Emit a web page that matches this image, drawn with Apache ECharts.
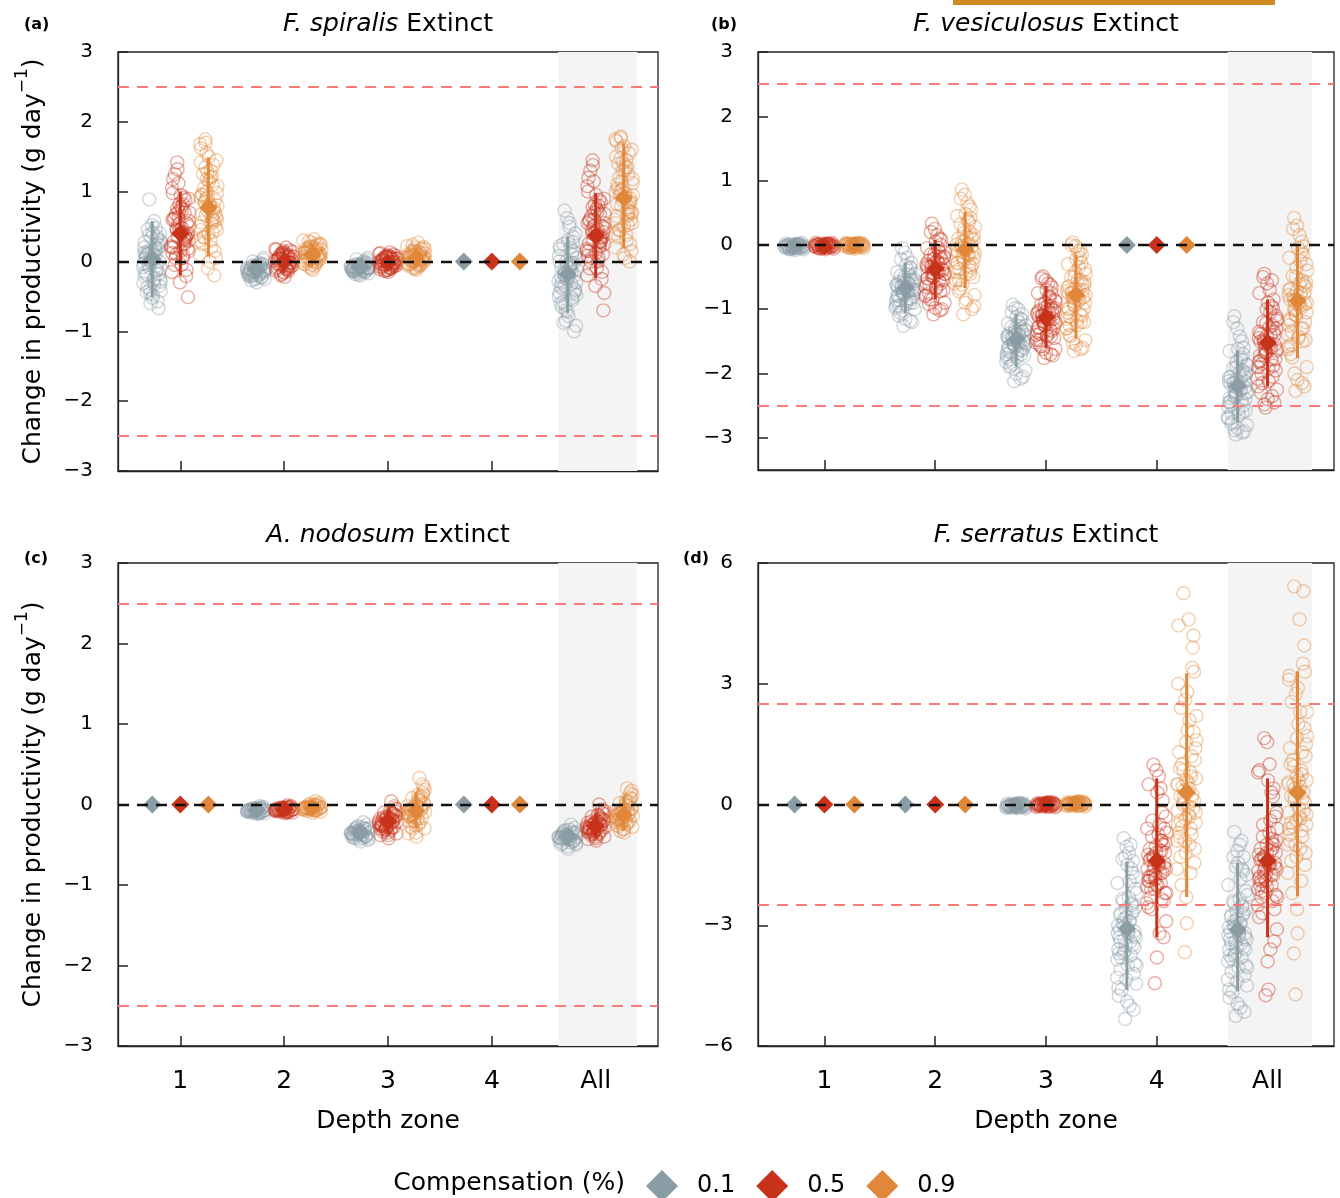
<!DOCTYPE html>
<html><head><meta charset="utf-8">
<script src="https://cdn.jsdelivr.net/npm/echarts@6/dist/echarts.min.js"></script>
<style>html,body{margin:0;padding:0;background:#fff}#c{width:1340px;height:1198px}</style>
</head><body><div id="c"></div>
<script>
// ---------------- data ----------------
const zones = ['1', '2', '3', '4', 'All'];
const comps = ['0.1', '0.5', '0.9'];
const yTicks3 = [-3, -2, -1, 0, 1, 2, 3];
const yTicks6 = [-6, -3, 0, 3, 6];
const xTicks = [1, 2, 3, 4, 5];

// Panel (a) F. spiralis
const meanA = [[0.04, -0.12, -0.08, 0, -0.18], [0.40, 0.0, -0.02, 0, 0.37], [0.77, 0.10, 0.05, 0, 0.91]];
const loA = [[-0.51, -0.25, -0.17, 0, -0.74], [-0.2, -0.17, -0.12, 0, -0.24], [0.07, -0.07, -0.1, 0, 0.19]];
const hiA = [[0.58, 0.02, 0.02, 0, 0.36], [1.0, 0.17, 0.09, 0, 0.98], [1.49, 0.27, 0.2, 0, 1.69]];
const ptsA_g = [
  [0.05,-0.21,0.33,0.89,-0.1,0.14,-0.44,0.22,0.0,-0.31,0.41,-0.05,0.18,-0.6,0.08,-0.16,0.27,-0.37,0.58,0.03,-0.26,0.12,-0.52,0.36,-0.02,0.2,-0.13,-0.67,0.46,0.1,-0.08,0.3,-0.4,0.16,-0.19,0.25,0.52,-0.29,0.06,-0.48,
   0.15,-0.35,0.02,-0.12,0.28,-0.24,0.09,0.4,-0.46,0.19,-0.03,-0.18,0.34,-0.57,0.11,0.23,-0.09,-0.33,0.04,0.48,-0.27,0.13,-0.06,0.38,-0.42],
  [-0.12,-0.2,-0.05,-0.15,-0.25,-0.08,-0.1,-0.18,0.02,-0.14,-0.3,-0.06,-0.22,-0.11,-0.02,-0.16,-0.13,-0.27,-0.09,-0.19,0.05,-0.12,-0.07,-0.23,-0.15,-0.1,-0.17,-0.04,-0.21,-0.13,
   -0.1,-0.16,-0.06,-0.2,-0.13,-0.03,-0.24,-0.11,-0.18,-0.08,0.0,-0.14,-0.26,-0.09,-0.17,-0.05,-0.21,-0.12,-0.15,-0.07],
  [-0.08,-0.13,-0.03,-0.1,-0.17,-0.05,-0.07,-0.12,0.02,-0.09,-0.2,-0.04,-0.15,-0.07,0.0,-0.11,-0.09,-0.18,-0.06,-0.13,0.05,-0.08,-0.05,-0.15,-0.1,-0.07,-0.12,-0.02,-0.14,-0.09,
   -0.07,-0.11,-0.04,-0.14,-0.09,-0.01,-0.16,-0.08,-0.12,-0.06,0.03,-0.1,-0.19,-0.05,-0.13,-0.03,-0.15,-0.09,-0.11,-0.06],
  [],
  [-0.18,-0.45,0.1,0.73,-0.3,-0.05,-0.65,0.2,-0.2,-0.5,0.3,-0.12,-0.02,-0.85,-0.1,-0.36,0.05,-0.58,0.55,-0.15,-0.42,-0.08,-0.72,0.15,-0.25,0.0,-0.32,-1.0,0.25,-0.1,-0.28,0.12,-0.62,-0.05,-0.38,0.35,0.62,-0.48,-0.22,-0.78,
   -0.2,-0.4,0.0,-0.55,0.18,-0.08,-0.3,0.4,-0.7,-0.15,0.08,-0.45,-0.25,0.28,-0.88,-0.12,-0.35,0.5,-0.6,-0.02,-0.22,0.22,-0.52,-0.18,-0.92]
];
const ptsA_r = [
  [0.42,0.12,0.7,1.42,0.3,0.55,-0.05,0.82,0.38,0.2,0.95,0.47,-0.21,0.63,0.26,1.18,0.5,0.05,0.75,0.35,-0.51,0.6,0.15,0.88,0.44,1.05,0.32,-0.12,0.68,0.4,0.22,0.9,0.53,0.08,1.25,0.36,-0.3,0.58,0.28,0.78,
   0.45,0.18,0.72,0.3,0.98,0.05,0.62,0.4,1.12,0.25,-0.15,0.55,0.82,0.34,0.1,0.7,1.32,0.48,0.2,0.92,-0.05,0.6,0.38,0.76,0.15],
  [0.0,-0.1,0.08,-0.04,0.14,-0.15,0.03,0.1,-0.07,0.18,-0.22,0.05,-0.02,0.12,-0.12,0.02,0.07,-0.05,0.2,-0.18,0.04,-0.08,0.1,-0.01,0.15,-0.13,0.06,-0.03,0.09,-0.09,
   0.01,-0.06,0.11,-0.11,0.04,0.16,-0.16,0.07,-0.03,0.13,-0.2,0.02,0.09,-0.06,0.17,-0.1,0.05,-0.02,0.12,-0.14],
  [-0.02,-0.08,0.04,-0.05,0.08,-0.12,0.01,0.06,-0.06,0.11,-0.15,0.02,-0.03,0.07,-0.1,0.0,0.05,-0.04,0.13,-0.13,0.03,-0.07,0.06,-0.01,0.09,-0.11,0.04,-0.03,0.05,-0.08,
   -0.01,-0.06,0.07,-0.09,0.02,0.1,-0.12,0.04,-0.04,0.08,-0.14,0.0,0.05,-0.07,0.12,-0.1,0.03,-0.02,0.06,-0.05],
  [],
  [0.37,0.08,0.68,1.45,0.25,0.52,-0.1,0.8,0.35,0.15,0.95,0.45,-0.25,0.6,0.22,1.2,0.48,0.0,0.72,0.3,-0.7,0.58,0.12,0.85,0.4,1.08,0.28,-0.15,0.65,0.38,0.18,0.9,0.5,0.05,1.3,0.33,-0.35,0.55,0.26,0.75,
   0.4,0.1,0.7,0.28,1.0,0.0,0.6,0.42,1.15,0.2,-0.2,0.5,0.82,0.3,0.05,0.68,1.38,0.46,0.15,0.88,-0.1,0.55,0.35,0.78,-0.45]
];
const ptsA_o = [
  [0.78,0.45,1.1,1.75,0.6,0.92,0.25,1.3,0.7,0.5,1.5,0.85,-0.2,1.0,0.55,1.62,0.8,0.35,1.2,0.66,0.05,0.96,0.4,1.38,0.74,1.68,0.62,0.15,1.05,0.82,0.3,1.45,0.9,0.2,1.25,0.58,-0.1,0.98,0.68,1.15,
   0.85,0.5,1.18,0.72,1.42,0.3,0.95,0.64,1.55,0.42,0.1,0.88,1.28,0.76,0.35,1.08,1.7,0.8,0.56,1.22,0.0,0.92,0.6,1.35,0.45],
  [0.1,0.0,0.18,0.05,0.25,-0.05,0.12,0.2,0.03,0.3,-0.12,0.15,0.08,0.22,-0.02,0.13,0.17,0.04,0.32,-0.08,0.11,0.02,0.2,0.09,0.27,-0.03,0.14,0.06,0.19,0.01,
   0.12,0.04,0.21,-0.06,0.15,0.26,-0.1,0.08,0.18,0.0,0.29,0.1,0.03,0.23,-0.04,0.16,0.07,0.24,0.13,-0.01],
  [0.05,-0.03,0.12,0.0,0.18,-0.08,0.07,0.14,-0.01,0.22,-0.12,0.09,0.03,0.16,-0.05,0.06,0.11,0.01,0.27,-0.1,0.06,-0.02,0.13,0.04,0.2,-0.06,0.08,0.02,0.15,-0.04,
   0.06,0.0,0.14,-0.07,0.09,0.19,-0.1,0.04,0.11,-0.02,0.24,0.07,0.01,0.17,-0.04,0.1,0.03,0.21,0.08,-0.05],
  [],
  [0.92,0.55,1.25,1.79,0.7,1.05,0.35,1.45,0.85,0.6,1.65,1.0,0.0,1.15,0.65,1.72,0.95,0.45,1.35,0.8,0.15,1.1,0.5,1.55,0.88,1.75,0.75,0.25,1.2,0.98,0.4,1.6,1.02,0.3,1.4,0.72,0.1,1.12,0.82,1.3,
   0.95,0.6,1.3,0.78,1.5,0.38,1.05,0.7,1.62,0.52,0.2,0.9,1.42,0.85,0.45,1.18,1.77,0.92,0.65,1.35,0.05,1.0,0.68,1.48,0.55]
];

// Panel (b) F. vesiculosus
const meanB = [[-0.02, -0.67, -1.47, 0, -2.19], [-0.02, -0.37, -1.13, 0, -1.52], [-0.01, -0.07, -0.78, 0, -0.87]];
const loB = [[-0.06, -1.06, -1.89, 0, -2.76], [-0.06, -0.85, -1.60, 0, -2.20], [-0.05, -0.67, -1.45, 0, -1.76]];
const hiB = [[0.02, -0.28, -1.08, 0, -1.64], [0.02, 0.08, -0.64, 0, -0.85], [0.03, 0.52, -0.15, 0, 0.0]];
const ptsB_g = [
  [-0.02,-0.05,0.01,-0.03,-0.07,0.0,-0.01,-0.04,0.03,-0.02,-0.08,0.01,-0.05,-0.03,0.02,-0.01,-0.04,-0.06,0.0,-0.02,
   -0.03,0.0,-0.06,-0.01,-0.04,0.02,-0.05,-0.02,-0.07,0.01,-0.03,-0.01,-0.05,0.0,-0.04],
  [-0.67,-0.85,-0.5,-0.05,-0.75,-0.6,-0.95,-0.4,-0.7,-0.88,-0.32,-0.64,-0.55,-1.26,-0.72,-0.8,-0.45,-1.05,-0.2,-0.68,-0.9,-0.58,-1.15,-0.36,-0.78,-0.62,-0.83,-1.2,-0.48,-0.7,-0.98,-0.52,-0.74,-0.6,-0.86,-0.28,-0.12,-1.0,-0.66,-0.92,
   -0.65,-0.8,-0.55,-0.9,-0.42,-0.72,-1.1,-0.6,-0.76,-0.35,-0.95,-0.68,-0.5,-0.84,-0.22,-0.7,-1.02,-0.58,-0.78,-0.46,-0.88,-0.63,-1.18,-0.74,-0.56],
  [-1.47,-1.65,-1.3,-0.93,-1.55,-1.4,-1.78,-1.2,-1.5,-1.7,-1.12,-1.44,-1.35,-2.12,-1.52,-1.6,-1.25,-1.88,-1.0,-1.48,-1.72,-1.38,-2.0,-1.16,-1.58,-1.42,-1.63,-2.05,-1.28,-1.5,-1.82,-1.32,-1.54,-1.4,-1.67,-1.08,-0.98,-1.95,-1.46,-1.75,
   -1.45,-1.6,-1.35,-1.7,-1.22,-1.5,-1.9,-1.4,-1.56,-1.15,-1.75,-1.48,-1.3,-1.64,-1.05,-1.52,-1.85,-1.38,-1.58,-1.26,-1.68,-1.43,-2.08,-1.53,-1.33],
  [],
  [-2.19,-2.45,-1.95,-1.11,-2.3,-2.1,-2.62,-1.78,-2.22,-2.52,-1.62,-2.15,-2.02,-2.95,-2.25,-2.38,-1.88,-2.75,-1.42,-2.2,-2.58,-2.05,-2.85,-1.7,-2.35,-2.12,-2.42,-2.9,-1.92,-2.2,-2.68,-1.98,-2.28,-2.08,-2.48,-1.6,-1.3,-2.8,-2.16,-2.55,
   -2.15,-2.4,-1.9,-2.6,-1.65,-2.25,-2.78,-2.0,-2.32,-1.5,-2.7,-2.12,-1.82,-2.5,-1.2,-2.28,-2.88,-1.98,-2.44,-1.75,-2.64,-2.06,-2.92,-2.36,-1.86]
];
const ptsB_r = [
  [-0.01,-0.04,0.02,-0.02,-0.06,0.01,0.0,-0.03,0.03,-0.01,-0.07,0.02,-0.04,-0.02,0.02,0.0,-0.03,-0.05,0.01,-0.01,
   -0.02,0.01,-0.05,0.0,-0.03,0.03,-0.04,-0.01,-0.06,0.02,-0.02,0.0,-0.04,0.01,-0.03],
  [-0.37,-0.6,-0.18,0.33,-0.45,-0.28,-0.75,-0.05,-0.4,-0.65,0.05,-0.33,-0.22,-1.08,-0.42,-0.52,-0.12,-0.85,0.15,-0.38,-0.7,-0.25,-0.98,0.0,-0.48,-0.3,-0.56,-1.0,-0.15,-0.4,-0.8,-0.2,-0.44,-0.28,-0.62,0.08,0.25,-0.9,-0.35,-0.68,
   -0.35,-0.55,-0.22,-0.72,-0.05,-0.42,-0.92,-0.3,-0.5,0.1,-0.78,-0.38,-0.15,-0.6,0.2,-0.45,-0.85,-0.25,-0.52,-0.1,-0.66,-0.33,-1.02,-0.48,-0.18],
  [-1.13,-1.35,-0.95,-0.49,-1.22,-1.05,-1.48,-0.8,-1.15,-1.4,-0.7,-1.1,-1.0,-1.76,-1.18,-1.28,-0.88,-1.58,-0.6,-1.14,-1.45,-1.02,-1.68,-0.75,-1.25,-1.08,-1.32,-1.72,-0.92,-1.16,-1.52,-0.98,-1.2,-1.06,-1.38,-0.66,-0.55,-1.62,-1.12,-1.42,
   -1.1,-1.3,-0.98,-1.42,-0.75,-1.15,-1.55,-1.02,-1.24,-0.62,-1.48,-1.08,-0.9,-1.34,-0.52,-1.2,-1.62,-0.95,-1.28,-0.82,-1.4,-1.05,-1.7,-1.18,-0.86],
  [],
  [-1.52,-1.82,-1.25,-0.45,-1.65,-1.42,-2.0,-1.05,-1.55,-1.9,-0.9,-1.48,-1.35,-2.53,-1.6,-1.72,-1.15,-2.15,-0.7,-1.52,-1.95,-1.38,-2.4,-0.98,-1.68,-1.45,-1.78,-2.45,-1.2,-1.55,-2.08,-1.3,-1.62,-1.4,-1.85,-0.85,-0.6,-2.25,-1.5,-1.92,
   -1.5,-1.78,-1.22,-2.05,-0.75,-1.58,-2.3,-1.1,-1.68,-0.55,-2.2,-1.4,-1.0,-1.88,-0.5,-1.62,-2.48,-1.28,-1.8,-0.95,-2.12,-1.35,-2.35,-1.72,-1.18]
];
const ptsB_o = [
  [0.0,-0.03,0.02,-0.01,-0.05,0.02,0.01,-0.02,0.03,0.0,-0.06,0.02,-0.03,-0.01,0.03,0.01,-0.02,-0.04,0.02,0.0,
   -0.01,0.02,-0.04,0.01,-0.02,0.03,-0.03,0.0,-0.05,0.02,-0.01,0.01,-0.03,0.02,-0.02],
  [-0.07,-0.35,0.2,0.86,-0.2,0.05,-0.55,0.38,-0.1,-0.42,0.48,-0.02,0.12,-1.08,-0.15,-0.28,0.28,-0.68,0.65,-0.05,-0.5,0.1,-0.9,0.42,-0.25,0.0,-0.32,-1.0,0.32,-0.08,-0.6,0.15,-0.18,0.02,-0.38,0.55,0.78,-0.78,-0.12,-0.45,
   -0.05,-0.3,0.18,-0.45,0.45,-0.15,-0.72,0.08,-0.22,0.6,-0.55,-0.02,0.25,-0.35,0.72,-0.12,-0.62,0.12,-0.28,0.35,-0.85,-0.08,-0.4,0.05,-0.95],
  [-0.78,-1.05,-0.55,0.04,-0.9,-0.68,-1.25,-0.35,-0.82,-1.15,-0.22,-0.74,-0.6,-1.65,-0.86,-1.0,-0.45,-1.42,-0.1,-0.8,-1.2,-0.64,-1.55,-0.28,-0.95,-0.72,-1.08,-1.6,-0.5,-0.8,-1.3,-0.58,-0.88,-0.7,-1.12,-0.15,-0.02,-1.48,-0.76,-1.18,
   -0.75,-1.0,-0.5,-1.2,-0.3,-0.85,-1.4,-0.62,-0.92,-0.08,-1.3,-0.7,-0.42,-1.1,0.0,-0.78,-1.52,-0.55,-0.98,-0.2,-1.25,-0.66,-1.62,-0.82,-0.38],
  [],
  [-0.87,-1.25,-0.55,0.42,-1.05,-0.72,-1.55,-0.25,-0.92,-1.4,-0.05,-0.8,-0.62,-2.27,-0.98,-1.15,-0.4,-1.75,0.15,-0.88,-1.48,-0.68,-2.1,-0.15,-1.1,-0.78,-1.3,-2.2,-0.48,-0.9,-1.62,-0.58,-1.02,-0.75,-1.35,-0.02,0.3,-1.9,-0.85,-1.45,
   -0.85,-1.2,-0.5,-1.5,-0.2,-0.95,-1.7,-0.65,-1.08,0.05,-1.58,-0.75,-0.35,-1.3,0.25,-0.9,-2.0,-0.6,-1.18,-0.1,-1.42,-0.7,-2.15,-1.0,-0.3]
];

// Panel (c) A. nodosum
const meanC = [[0, -0.07, -0.35, 0, -0.40], [0, -0.06, -0.21, 0, -0.27], [0, -0.04, -0.08, 0, -0.13]];
const loC = [[0, -0.11, -0.44, 0, -0.52], [0, -0.1, -0.37, 0, -0.42], [0, -0.09, -0.3, 0, -0.32]];
const hiC = [[0, -0.03, -0.26, 0, -0.29], [0, -0.02, -0.05, 0, -0.1], [0, 0.01, 0.15, 0, 0.1]];
const ptsC_g = [
  [],
  [-0.07,-0.09,-0.05,-0.08,-0.11,-0.06,-0.07,-0.1,-0.03,-0.08,-0.12,-0.05,-0.09,-0.06,-0.02,-0.08,-0.07,-0.1,-0.04,-0.07,
   -0.08,-0.06,-0.1,-0.05,-0.09,-0.07,-0.11,-0.04,-0.08,-0.06,-0.09,-0.07,-0.05,-0.1,-0.07],
  [-0.35,-0.4,-0.3,-0.37,-0.44,-0.32,-0.34,-0.41,-0.25,-0.36,-0.46,-0.29,-0.39,-0.33,-0.22,-0.38,-0.35,-0.42,-0.28,-0.34,-0.31,-0.37,-0.43,-0.3,-0.36,
   -0.36,-0.33,-0.4,-0.3,-0.38,-0.35,-0.42,-0.27,-0.37,-0.32,-0.39,-0.34,-0.29,-0.41,-0.35],
  [],
  [-0.4,-0.46,-0.34,-0.42,-0.5,-0.37,-0.39,-0.47,-0.29,-0.41,-0.55,-0.33,-0.44,-0.38,-0.25,-0.43,-0.4,-0.48,-0.31,-0.39,-0.36,-0.42,-0.52,-0.35,-0.41,
   -0.41,-0.38,-0.45,-0.35,-0.43,-0.4,-0.48,-0.32,-0.42,-0.37,-0.46,-0.39,-0.34,-0.5,-0.4]
];
const ptsC_r = [
  [],
  [-0.06,-0.08,-0.04,-0.07,-0.1,-0.05,-0.06,-0.09,-0.02,-0.07,-0.11,-0.04,-0.08,-0.05,-0.01,-0.07,-0.06,-0.09,-0.03,-0.06,
   -0.07,-0.05,-0.09,-0.04,-0.08,-0.06,-0.1,-0.03,-0.07,-0.05,-0.08,-0.06,-0.04,-0.09,-0.06],
  [-0.21,-0.3,-0.12,-0.25,-0.36,-0.15,-0.2,-0.32,-0.05,-0.24,-0.42,-0.1,-0.28,-0.17,0.04,-0.26,-0.22,-0.34,-0.08,-0.19,-0.14,-0.27,-0.38,-0.11,-0.23,-0.18,-0.29,-0.02,-0.16,-0.25,
   -0.22,-0.15,-0.3,-0.1,-0.26,-0.2,-0.35,-0.06,-0.24,-0.18,-0.32,-0.13,-0.28,-0.21,-0.38,-0.17,-0.25,-0.09,-0.31,-0.19],
  [],
  [-0.27,-0.34,-0.18,-0.3,-0.4,-0.22,-0.26,-0.37,-0.1,-0.29,-0.45,-0.15,-0.32,-0.24,0.0,-0.3,-0.28,-0.38,-0.13,-0.25,-0.2,-0.33,-0.42,-0.17,-0.28,-0.23,-0.35,-0.06,-0.21,-0.3,
   -0.28,-0.2,-0.36,-0.14,-0.31,-0.25,-0.4,-0.08,-0.29,-0.22,-0.37,-0.18,-0.33,-0.26,-0.43,-0.21,-0.3,-0.12,-0.35,-0.24]
];
const ptsC_o = [
  [],
  [-0.04,-0.07,-0.01,-0.05,-0.09,-0.02,-0.04,-0.07,0.02,-0.05,-0.1,-0.01,-0.06,-0.03,0.04,-0.05,-0.03,-0.08,0.0,-0.04,
   -0.05,-0.03,-0.07,-0.02,-0.06,-0.04,-0.08,0.0,-0.05,-0.03,-0.06,-0.04,0.01,-0.07,-0.04],
  [-0.08,-0.2,0.05,-0.12,-0.3,0.0,-0.06,-0.25,0.15,-0.1,-0.4,0.08,-0.17,-0.03,0.33,-0.14,-0.09,-0.28,0.12,-0.05,0.02,-0.15,-0.35,0.1,-0.11,-0.02,-0.22,0.25,-0.07,-0.18,
   -0.1,0.0,-0.2,0.08,-0.14,-0.05,-0.26,0.18,-0.12,-0.02,-0.3,0.12,-0.16,-0.07,-0.36,0.05,-0.09,0.22,-0.2,-0.04],
  [],
  [-0.13,-0.22,-0.02,-0.17,-0.28,-0.06,-0.11,-0.25,0.08,-0.15,-0.35,0.02,-0.2,-0.09,0.2,-0.18,-0.14,-0.27,0.05,-0.1,-0.05,-0.19,-0.31,0.04,-0.16,-0.08,-0.23,0.14,-0.12,-0.2,
   -0.14,-0.05,-0.24,0.03,-0.18,-0.1,-0.3,0.12,-0.16,-0.07,-0.33,0.07,-0.2,-0.12,-0.26,0.0,-0.13,0.17,-0.22,-0.08]
];

// Panel (d) F. serratus
const meanD = [[0, 0, -0.03, -3.08, -3.11], [0, 0, 0.0, -1.40, -1.40], [0, 0, 0.02, 0.30, 0.30]];
const loD = [[0, 0, -0.08, -4.61, -4.64], [0, 0, -0.05, -3.30, -3.30], [0, 0, -0.03, -2.30, -2.28]];
const hiD = [[0, 0, 0.02, -1.42, -1.45], [0, 0, 0.04, 0.65, 0.65], [0, 0, 0.06, 3.26, 3.31]];
const ptsD_g = [
  [], [],
  [-0.03,-0.07,0.01,-0.05,-0.1,0.0,-0.02,-0.06,0.03,-0.04,-0.09,0.02,-0.05,-0.01,0.04,-0.03,-0.06,-0.08,0.0,-0.02,
   -0.02,-0.05,0.0,-0.07,-0.03,0.02,-0.06,-0.01,-0.04,0.03,-0.08,-0.02,-0.05,0.01,-0.03],
  [-3.08,-3.6,-2.5,-0.84,-3.3,-2.8,-4.1,-1.9,-3.15,-3.85,-1.5,-2.95,-2.65,-5.33,-3.4,-3.7,-2.2,-4.6,-1.2,-3.05,-3.95,-2.75,-4.9,-1.7,-3.5,-3.0,-3.75,-5.1,-2.35,-3.2,-4.3,-2.55,-3.35,-2.9,-3.8,-1.4,-1.05,-4.45,-3.1,-4.0,-2.4,-3.55,-1.3,-2.7,-4.75,
   -2.9,-3.4,-2.1,-3.65,-1.6,-3.2,-4.2,-2.6,-3.5,-1.35,-4.0,-2.85,-2.3,-3.3,-1.0,-3.15,-4.55,-2.45,-3.7,-1.8,-4.35,-2.7,-5.0,-3.25,-1.95],
  [-3.11,-3.6,-2.55,-0.68,-3.35,-2.85,-4.15,-1.85,-3.2,-3.9,-1.45,-3.0,-2.7,-5.25,-3.45,-3.75,-2.25,-4.65,-1.0,-3.05,-4.0,-2.8,-4.95,-1.65,-3.55,-3.05,-3.8,-5.15,-2.4,-3.25,-4.35,-2.6,-3.4,-2.95,-3.85,-1.3,-1.15,-4.5,-3.15,-4.05,-2.45,-3.6,-1.55,-2.75,-4.8,
   -2.95,-3.45,-2.15,-3.7,-1.6,-3.25,-4.25,-2.65,-3.55,-1.3,-4.05,-2.9,-2.35,-3.35,-0.9,-3.2,-4.6,-2.5,-3.75,-1.75,-4.4,-2.75,-5.05,-3.3,-2.0]
];
const ptsD_r = [
  [], [],
  [0.0,-0.04,0.03,-0.02,-0.07,0.02,0.01,-0.03,0.05,-0.01,-0.06,0.04,-0.02,0.01,0.06,0.0,-0.03,-0.05,0.02,0.01,
   0.01,-0.02,0.04,-0.04,0.0,0.03,-0.05,0.02,-0.01,0.05,-0.06,0.01,-0.03,0.03,0.0],
  [-1.4,-1.9,-0.9,0.99,-1.6,-1.2,-2.3,-0.5,-1.45,-2.05,0.3,-1.3,-1.0,-4.44,-1.7,-1.8,-0.7,-2.6,0.7,-1.35,-2.2,-1.1,-3.8,-0.2,-1.75,-1.25,-1.95,-3.3,-0.8,-1.5,-2.45,-0.95,-1.55,-1.15,-2.1,0.1,0.85,-2.9,-1.38,-2.0,-1.65,-0.6,-1.85,-2.35,0.5,
   -1.5,-1.8,-1.2,-2.1,-0.9,-1.6,-2.4,-1.05,-1.7,-0.4,-2.2,-1.3,-0.75,-1.9,0.4,-1.45,-2.55,-1.15,-1.75,-0.3,-2.0,-1.35,-3.2,-1.55,-0.6],
  [-1.4,-1.85,-0.95,1.65,-1.6,-1.2,-2.3,-0.4,-1.45,-2.1,0.6,-1.3,-1.0,-4.74,-1.75,-1.8,-0.6,-2.7,1.0,-1.35,-2.25,-1.1,-3.9,0.2,-1.7,-1.25,-2.0,-3.4,-0.8,-1.5,-2.5,-0.9,-1.55,-1.15,-2.15,0.4,1.55,-3.1,-1.38,-4.6,-1.65,-0.3,-1.9,-2.4,0.85,
   -1.5,-1.9,-1.2,-2.2,-0.85,-1.65,-2.6,-1.0,-1.75,-0.5,-2.3,-1.3,-0.7,-2.0,0.3,-1.45,-2.8,-1.1,-1.8,-0.2,-2.05,-1.35,-3.6,-1.55,0.8]
];
const ptsD_o = [
  [], [],
  [0.02,-0.02,0.05,0.0,-0.05,0.04,0.03,-0.01,0.07,0.01,-0.04,0.06,0.0,0.03,0.08,0.02,-0.01,-0.03,0.04,0.03,
   0.03,0.0,0.06,-0.02,0.02,0.05,-0.03,0.04,0.01,0.07,-0.04,0.03,-0.01,0.05,0.02],
  [0.3,-0.5,1.2,5.25,-0.2,0.6,-1.3,2.1,0.1,-0.9,2.8,0.45,-0.1,-3.67,0.8,-0.7,1.6,-2.0,4.6,0.2,-1.1,0.9,-2.95,3.4,-0.35,0.5,-0.6,4.2,1.0,-0.05,-1.6,1.4,0.35,-0.3,2.4,3.9,-2.3,0.65,-0.8,1.85,0.0,-1.45,2.6,0.15,4.45,
   0.4,-0.4,1.1,-0.9,0.7,-0.15,1.8,-1.2,0.25,-0.55,2.2,0.05,-0.25,1.3,-1.7,0.55,3.0,-0.75,0.85,-0.45,1.55,0.2,-1.0,3.3,0.5],
  [0.3,-0.6,1.3,5.42,-0.25,0.7,-1.4,2.3,0.05,-1.0,2.9,0.5,-0.15,-4.72,0.85,-0.75,1.7,-2.2,4.6,0.2,-1.2,1.0,-3.2,3.5,-0.4,0.55,-0.65,3.95,1.1,-0.1,-1.7,1.5,0.4,-0.35,2.55,5.3,-2.6,0.6,-0.9,2.0,-3.7,-1.5,2.75,0.15,3.2,
   0.45,-0.45,1.2,-1.0,0.75,-0.2,1.9,-1.3,0.3,-0.55,2.3,0.1,-0.3,1.4,-1.9,0.6,3.1,-0.8,0.95,-0.5,1.65,0.2,-1.1,3.3,0.5]
];

// fixed horizontal jitter pattern (fraction of jitter half-width)
const jitter = [0.12,-0.85,0.47,-0.33,0.91,-0.06,-0.62,0.28,0.74,-0.95,0.05,-0.41,0.63,-0.19,0.36,-0.77,0.98,-0.52,0.21,-0.28,0.82,-0.69,0.01,0.55,-0.12,-0.88,0.4,0.68,-0.47,0.16,-0.99,0.87,-0.24,0.31,-0.58,0.6,-0.04,0.94,-0.72,0.09,-0.36,0.77,-0.15,0.5,-0.81,
  0.25,-0.64,0.83,-0.2,0.44,-0.92,0.7,-0.09,0.58,-0.44,0.97,-0.3,0.19,-0.75,0.38];

// ---------------- layout / style ----------------
const FONT = 'DejaVu Sans';
const COLORS = ['#8a9ca4', '#c8321a', '#e0873a'];
const OFF = [-0.27, 0, 0.27];
const JW = 0.09;
const BAND = [4.64, 5.40];
const AX = '#222';

const panels = [
  { sp: 'F. spiralis', tag: '(a)', grid: { left: 118, top: 52, width: 540, height: 419 }, yr: [-3, 3], yt: yTicks3,
    pts: [ptsA_g, ptsA_r, ptsA_o], mean: meanA, lo: loA, hi: hiA, xl: false, yn: true, tTop: 12, tagY: 25, tagX: 24 },
  { sp: 'F. vesiculosus', tag: '(b)', grid: { left: 758, top: 52, width: 576, height: 418 }, yr: [-3.5, 3], yt: yTicks3,
    pts: [ptsB_g, ptsB_r, ptsB_o], mean: meanB, lo: loB, hi: hiB, xl: false, yn: false, tTop: 12, tagY: 25, tagX: 711 },
  { sp: 'A. nodosum', tag: '(c)', grid: { left: 118, top: 563, width: 540, height: 483 }, yr: [-3, 3], yt: yTicks3,
    pts: [ptsC_g, ptsC_r, ptsC_o], mean: meanC, lo: loC, hi: hiC, xl: true, yn: true, tTop: 523, tagY: 559, tagX: 24 },
  { sp: 'F. serratus', tag: '(d)', grid: { left: 758, top: 563, width: 576, height: 483 }, yr: [-6, 6], yt: yTicks6,
    pts: [ptsD_g, ptsD_r, ptsD_o], mean: meanD, lo: loD, hi: hiD, xl: true, yn: false, tTop: 523, tagY: 559, tagX: 683 }
];

const fmtY = v => (v < 0 ? '\u2212' + (-v) : String(v));

const grids = [], xAxes = [], yAxes = [], titles = [], series = [];
const graphics = [
  { type: 'rect', shape: { x: 953, y: 0, width: 322, height: 5 }, style: { fill: '#d08a22' } },
  { type: 'text', x: 625, y: 1183, style: { text: 'Compensation (%)', fontSize: 25, fontFamily: FONT, fill: '#000', align: 'right', verticalAlign: 'middle' } }
];

panels.forEach((P, p) => {
  grids.push(Object.assign({ show: true, borderColor: AX, borderWidth: 1.3, backgroundColor: 'transparent', containLabel: false }, P.grid));
  xAxes.push({
    gridIndex: p, type: 'value', min: 0.4, max: 5.6,
    axisLine: { show: true, onZero: false, lineStyle: { color: AX, width: 1.3 } },
    axisTick: { show: true, inside: true, length: 10, lineStyle: { color: AX, width: 1.5 }, customValues: xTicks },
    axisLabel: { show: P.xl, customValues: xTicks, formatter: v => zones[Math.round(v) - 1], fontSize: 25, color: '#000', fontFamily: FONT, margin: 23 },
    splitLine: { show: false },
    name: P.xl ? 'Depth zone' : '', nameLocation: 'middle', nameGap: 63,
    nameTextStyle: { fontSize: 25, color: '#000', fontFamily: FONT }
  });
  yAxes.push({
    gridIndex: p, type: 'value', min: P.yr[0], max: P.yr[1],
    axisLine: { show: true, onZero: false, lineStyle: { color: AX, width: 1.3 } },
    axisTick: { show: true, inside: true, length: 10, lineStyle: { color: AX, width: 1.5 }, customValues: P.yt },
    axisLabel: { customValues: P.yt, formatter: fmtY, fontSize: 20, color: '#000', fontFamily: FONT, margin: 25 },
    splitLine: { show: false },
    name: P.yn ? '{a|Change in productivity (g day}{s|\u22121}{a|)}' : '',
    nameLocation: 'middle', nameGap: 66,
    nameTextStyle: { color: '#000', rich: {
      a: { fontSize: 25, fontFamily: FONT, color: '#000', lineHeight: 38 },
      s: { fontSize: 17, fontFamily: FONT, color: '#000', verticalAlign: 'top', lineHeight: 17 }
    } }
  });
  titles.push({
    text: '{i|' + P.sp + '} Extinct', left: P.grid.left + P.grid.width / 2, top: P.tTop, textAlign: 'center', padding: 0,
    textStyle: { fontSize: 25, fontWeight: 'normal', color: '#000', fontFamily: FONT,
      rich: { i: { fontSize: 25, fontStyle: 'italic', color: '#000', fontFamily: FONT } } }
  });
  graphics.push({ type: 'text', x: P.tagX, y: P.tagY, style: { text: P.tag, fontSize: 16, fontWeight: 'bold', fontFamily: FONT, fill: '#000', verticalAlign: 'middle' } });

  // background band + reference lines
  series.push({
    type: 'scatter', name: 'ref' + p, xAxisIndex: p, yAxisIndex: p, data: [], z: 1, silent: true,
    markArea: { silent: true, itemStyle: { color: '#f4f4f4' }, data: [[{ xAxis: BAND[0] }, { xAxis: BAND[1] }]] },
    markLine: { silent: true, symbol: ['none', 'none'], label: { show: false }, animation: false, data: [
      { yAxis: 2.5, lineStyle: { color: '#fb7b7b', width: 2, type: [11, 8] } },
      { yAxis: -2.5, lineStyle: { color: '#fb7b7b', width: 2, type: [11, 8] } },
      { yAxis: 0, lineStyle: { color: '#111', width: 2.4, type: [11, 8] } }
    ] }
  });

  for (let c = 0; c < 3; c++) {
    const data = [];
    P.pts[c].forEach((vals, zi) => vals.forEach((v, i) => data.push([zi + 1 + OFF[c] + jitter[i % jitter.length] * JW, v])));
    series.push({
      type: 'scatter', name: 'pts' + p + c, xAxisIndex: p, yAxisIndex: p, data, z: 2, silent: true,
      symbol: 'circle', symbolSize: 13,
      itemStyle: { color: 'rgba(255,255,255,0)', borderColor: COLORS[c], borderWidth: 1.4, opacity: 0.4 }
    });
    series.push({
      type: 'custom', name: 'bar' + p + c, xAxisIndex: p, yAxisIndex: p, z: 3, silent: true,
      data: zones.map((_, zi) => [zi + 1 + OFF[c], P.lo[c][zi], P.hi[c][zi]]),
      encode: { x: 0, y: [1, 2] },
      renderItem: (params, api) => {
        const a = api.coord([api.value(0), api.value(1)]);
        const b = api.coord([api.value(0), api.value(2)]);
        return { type: 'line', shape: { x1: a[0], y1: a[1], x2: b[0], y2: b[1] }, style: { stroke: COLORS[c], lineWidth: 3 } };
      }
    });
    series.push({
      type: 'scatter', name: comps[c], xAxisIndex: p, yAxisIndex: p, z: 4,
      data: zones.map((_, zi) => [zi + 1 + OFF[c], P.mean[c][zi]]),
      symbol: 'diamond', symbolSize: 18, itemStyle: { color: COLORS[c], opacity: 1 }
    });
  }
});

const chart = echarts.init(document.getElementById('c'), null, { renderer: 'canvas' });
chart.setOption({
  animation: false,
  backgroundColor: '#fff',
  title: titles,
  grid: grids,
  xAxis: xAxes,
  yAxis: yAxes,
  legend: {
    data: comps.map(n => ({ name: n, icon: 'diamond' })),
    left: 641, top: 1165, itemWidth: 32, itemHeight: 32, itemGap: 21, selectedMode: false,
    textStyle: { fontSize: 24, color: '#000', fontFamily: FONT, padding: [0, 0, 0, 14] }
  },
  graphic: graphics,
  series
});
</script></body></html>
